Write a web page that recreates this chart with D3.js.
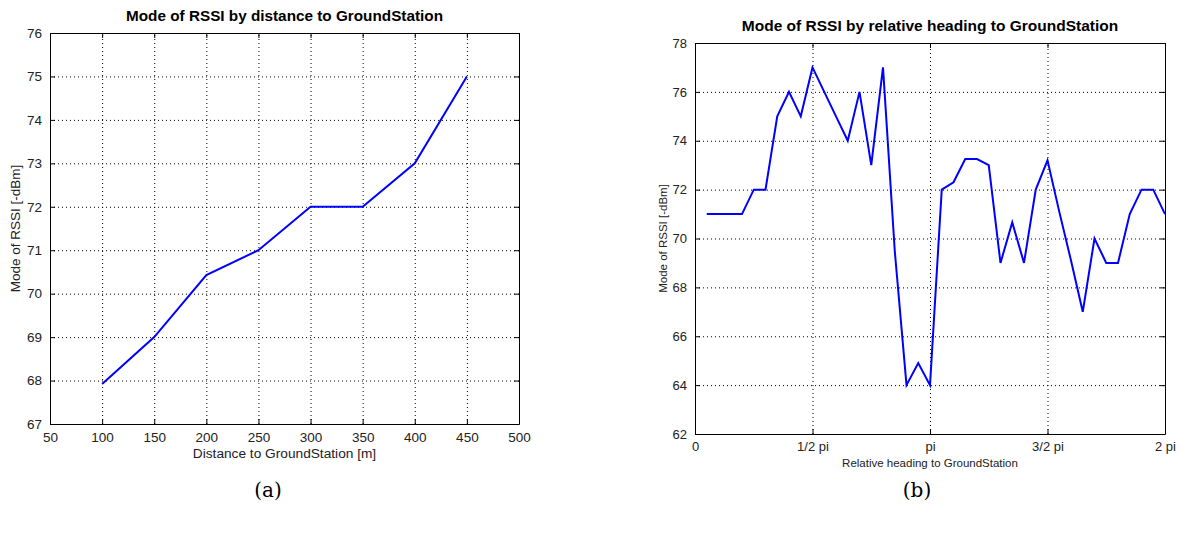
<!DOCTYPE html>
<html>
<head>
<meta charset="utf-8">
<script src="https://cdn.jsdelivr.net/npm/d3@7"></script>
<style>
html,body{margin:0;padding:0;background:#fff;}
svg{display:block;}
text{font-family:"Liberation Sans",Arial,Helvetica,sans-serif;}
</style>
</head>
<body>
<svg id="chart" width="1186" height="537"></svg>
<script>
// ---- Data: panel (a) ----
const distances = [100, 150, 200, 250, 300, 350, 400, 450];
const rssiByDistance = [67.92, 69, 70.43, 71, 72, 72, 73, 75];
const distanceTicks = [50, 100, 150, 200, 250, 300, 350, 400, 450, 500];
const rssiTicksA = [67, 68, 69, 70, 71, 72, 73, 74, 75, 76];

// ---- Data: panel (b) ---- heading in multiples of pi
const headingPi = [0.05, 0.10, 0.15, 0.20, 0.25, 0.30, 0.35, 0.40, 0.45, 0.50,
                   0.55, 0.60, 0.65, 0.70, 0.75, 0.80, 0.85, 0.90, 0.95, 1.00,
                   1.05, 1.10, 1.15, 1.20, 1.25, 1.30, 1.35, 1.40, 1.45, 1.50,
                   1.55, 1.60, 1.65, 1.70, 1.75, 1.80, 1.85, 1.90, 1.95, 2.00];
const rssiByHeading = [71, 71, 71, 71, 72, 72, 75, 76, 75, 77,
                       76, 75, 74, 76, 73, 77, 69.5, 64, 64.9, 64,
                       72, 72.3, 73.25, 73.25, 73, 69, 70.66, 69, 72, 73.2,
                       71.1, 69.1, 67, 70, 69, 69, 71, 72, 72, 71];
const headingTicks = [0, 0.5, 1, 1.5, 2];
const headingTickLabels = ["0", "1/2 pi", "pi", "3/2 pi", "2 pi"];
const rssiTicksB = [62, 64, 66, 68, 70, 72, 74, 76, 78];

const svg = d3.select("#chart");
svg.append("rect").attr("width", 1186).attr("height", 537).attr("fill", "#fff");

function panel(opts) {
  const {x0, x1, y0, y1, xDomain, yDomain, xTicks, xTickFmt, yTicks, xs, ys,
         title, titleY, titleSize, xLabel, yLabel, fontTick, fontXLabel, fontYLabel,
         xLabelY, yLabelX, caption} = opts;
  const g = svg.append("g");
  const x = d3.scaleLinear().domain(xDomain).range([x0, x1]);
  const y = d3.scaleLinear().domain(yDomain).range([y1, y0]);
  const w = x1 - x0, h = y1 - y0;

  // grid
  const gx = g.append("g").attr("transform", `translate(0,${y1})`)
    .call(d3.axisBottom(x).tickValues(xTicks).tickSize(-h).tickFormat(""));
  const gy = g.append("g").attr("transform", `translate(${x0},0)`)
    .call(d3.axisLeft(y).tickValues(yTicks).tickSize(-w).tickFormat(""));
  [gx, gy].forEach(a => {
    a.select(".domain").remove();
    a.selectAll(".tick line").attr("stroke", "#000").attr("stroke-width", 1)
      .attr("stroke-dasharray", "1,3");
  });

  // line
  const pts = xs.map((v, i) => [v, ys[i]]);
  g.append("path").datum(pts)
    .attr("fill", "none").attr("stroke", "#0000ff").attr("stroke-width", 2)
    .attr("stroke-linejoin", "miter")
    .attr("d", d3.line().x(d => x(d[0])).y(d => y(d[1])));

  // axes with inward ticks
  const ax = g.append("g").attr("transform", `translate(0,${y1})`)
    .call(d3.axisBottom(x).tickValues(xTicks).tickSizeInner(-5).tickSizeOuter(0)
      .tickPadding(8).tickFormat(xTickFmt));
  const axTop = g.append("g").attr("transform", `translate(0,${y0})`)
    .call(d3.axisTop(x).tickValues(xTicks).tickSizeInner(-5).tickSizeOuter(0).tickFormat(""));
  const ay = g.append("g").attr("transform", `translate(${x0},0)`)
    .call(d3.axisLeft(y).tickValues(yTicks).tickSizeInner(-5).tickSizeOuter(0)
      .tickPadding(8).tickFormat(d3.format("d")));
  const ayR = g.append("g").attr("transform", `translate(${x1},0)`)
    .call(d3.axisRight(y).tickValues(yTicks).tickSizeInner(-5).tickSizeOuter(0).tickFormat(""));
  [ax, axTop, ay, ayR].forEach(a => {
    a.select(".domain").attr("stroke", "#000").attr("stroke-width", 1);
    a.selectAll(".tick line").attr("stroke", "#000");
    a.selectAll(".tick text").attr("fill", "#222").style("font-size", fontTick + "px")
      .style("font-family", '"Liberation Sans", Arial, sans-serif');
  });

  // title and labels
  g.append("text").attr("x", (x0 + x1) / 2).attr("y", titleY).attr("text-anchor", "middle")
    .attr("fill", "#000").style("font-size", titleSize + "px").style("font-weight", "bold").text(title);
  g.append("text").attr("x", (x0 + x1) / 2).attr("y", xLabelY).attr("text-anchor", "middle")
    .attr("fill", "#222").style("font-size", fontXLabel + "px").text(xLabel);
  g.append("text").attr("transform", `translate(${yLabelX},${(y0 + y1) / 2}) rotate(-90)`)
    .attr("text-anchor", "middle").attr("fill", "#222").style("font-size", fontYLabel + "px").text(yLabel);

  svg.append("text").attr("x", caption.x).attr("y", caption.y).attr("text-anchor", "middle")
    .attr("fill", "#000").style("font-family", '"DejaVu Serif", "Liberation Serif", serif')
    .style("font-size", "20px").text(caption.text);
}

panel({
  x0: 50, x1: 519, y0: 33, y1: 424,
  xDomain: [50, 500], yDomain: [67, 76],
  xTicks: distanceTicks, xTickFmt: d3.format("d"), yTicks: rssiTicksA,
  xs: distances, ys: rssiByDistance,
  title: "Mode of RSSI by distance to GroundStation", titleY: 21, titleSize: 15.3,
  xLabel: "Distance to GroundStation [m]", yLabel: "Mode of RSSI [-dBm]",
  fontTick: 13.5, fontXLabel: 13.7, fontYLabel: 13.5, xLabelY: 458, yLabelX: 20,
  caption: {x: 268, y: 497, text: "(a)"}
});

panel({
  x0: 695, x1: 1165, y0: 43, y1: 434,
  xDomain: [0, 2], yDomain: [62, 78],
  xTicks: headingTicks, xTickFmt: (d, i) => headingTickLabels[i], yTicks: rssiTicksB,
  xs: headingPi, ys: rssiByHeading,
  title: "Mode of RSSI by relative heading to GroundStation", titleY: 31, titleSize: 15.5,
  xLabel: "Relative heading to GroundStation", yLabel: "Mode of RSSI [-dBm]",
  fontTick: 13, fontXLabel: 11.5, fontYLabel: 11.5, xLabelY: 467, yLabelX: 667,
  caption: {x: 917, y: 497, text: "(b)"}
});
</script>
</body>
</html>
